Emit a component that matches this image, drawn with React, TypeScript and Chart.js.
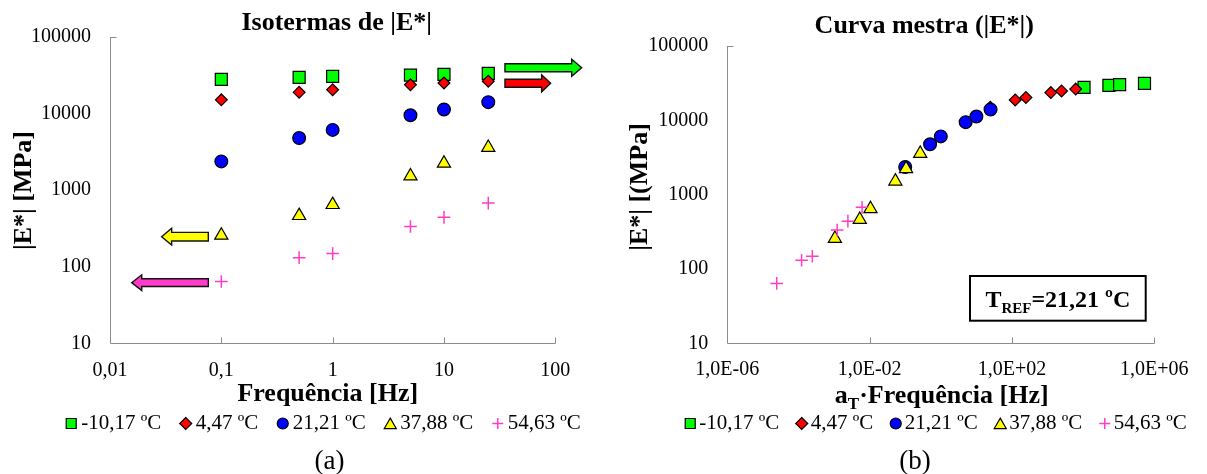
import React, { useEffect, useRef } from 'react';
import { Chart, registerables } from 'chart.js';

Chart.register(...registerables);

// ---------------- data ----------------
const frequencies = [0.1, 0.5, 1, 5, 10, 25];
const seriesLabels = ['-10,17 ºC', '4,47 ºC', '21,21 ºC', '37,88 ºC', '54,63 ºC'];
const modulusTm10 = [27700, 29500, 30300, 31500, 32300, 33300];
const modulusT4 = [15000, 18800, 20300, 23600, 24860, 26300];
const modulusT21 = [2360, 4760, 6080, 9450, 11250, 14000];
const modulusT38 = [256, 462, 643, 1515, 2230, 3570];
const modulusT55 = [64, 131, 148, 334, 440, 675];
const shiftFactors = [1.06e5, 247, 1, 0.01057, 2.45e-4];
const yTickValues = [10, 100, 1000, 10000, 100000];
const xTickValuesA = [0.01, 0.1, 1, 10, 100];
const xTickValuesB = [1e-6, 1e-2, 1e2, 1e6];
const arrowTailsX = [35.3, 35.3, 0.0764, 0.0764];
const arrowTipsX = [172.6, 90.8, 0.0291, 0.01567];
const arrowLevelsY = [39400, 24660, 246, 61.8];

// ---------------- styles ----------------
const SERIF = "'Liberation Serif', 'Times New Roman', serif";
const AXIS_COLOR = '#8c8c8c';
const X_AXIS_H = 40;
const modulusSeries = [modulusTm10, modulusT4, modulusT21, modulusT38, modulusT55];
const markerStyles = [
  { pointStyle: 'rect', fill: '#00ff00', stroke: '#000000', radius: 8.5, width: 1.2, legendSize: 10 },
  { pointStyle: 'rectRot', fill: '#ff0000', stroke: '#000000', radius: 5.9, width: 1.2, legendSize: 12 },
  { pointStyle: 'circle', fill: '#0000ff', stroke: '#000000', radius: 6.4, width: 1.2, legendSize: 11 },
  { pointStyle: 'triangle', fill: '#ffff00', stroke: '#000000', radius: 7.6, width: 1.2, legendSize: 12 },
  { pointStyle: 'cross', fill: '#ff3cc8', stroke: '#ff3cc8', radius: 6.3, width: 1.5, legendSize: 11 },
];
const arrowStyles = [
  { color: '#00ff00', shaft: 8, head: 17, headLen: 10 },
  { color: '#ff0000', shaft: 8, head: 17, headLen: 9 },
  { color: '#ffff00', shaft: 8.7, head: 16.7, headLen: 10 },
  { color: '#ff3cc8', shaft: 7.7, head: 15.7, headLen: 10 },
];

const fmtA = (v: number) => String(v).replace('.', ',');
const fmtB = (v: number) => {
  const e = Math.round(Math.log10(v));
  const m = v / Math.pow(10, e);
  return m.toFixed(1).replace('.', ',') + 'E' + (e < 0 ? '-' : '+') + String(Math.abs(e)).padStart(2, '0');
};

function makeDatasets(shifted: boolean, xMax: number) {
  return modulusSeries.map((vals, i) => {
    const st = markerStyles[i];
    return {
      label: seriesLabels[i],
      data: frequencies
        .map((f, j) => ({ x: shifted ? f * shiftFactors[i] : f, y: vals[j] }))
        .filter((p) => p.x <= xMax),
      showLine: false,
      pointStyle: st.pointStyle,
      pointRadius: st.radius,
      pointHoverRadius: st.radius,
      pointBackgroundColor: st.fill,
      pointBorderColor: st.stroke,
      pointBorderWidth: st.width,
      borderColor: st.stroke,
      backgroundColor: st.fill,
      order: modulusSeries.length - i,
    };
  });
}

function drawMarker(ctx: CanvasRenderingContext2D, i: number, x: number, y: number) {
  const st = markerStyles[i];
  const s = st.legendSize;
  ctx.save();
  ctx.beginPath();
  ctx.lineWidth = st.width;
  ctx.strokeStyle = st.stroke;
  ctx.fillStyle = st.fill;
  switch (st.pointStyle) {
    case 'rect':
      ctx.rect(x - s / 2, y - s / 2, s, s);
      break;
    case 'rectRot':
      ctx.moveTo(x, y - s / 2);
      ctx.lineTo(x + s / 2, y);
      ctx.lineTo(x, y + s / 2);
      ctx.lineTo(x - s / 2, y);
      ctx.closePath();
      break;
    case 'circle':
      ctx.arc(x, y, s / 2, 0, Math.PI * 2);
      break;
    case 'triangle':
      ctx.moveTo(x, y - s * 0.45);
      ctx.lineTo(x + s / 2, y + s * 0.42);
      ctx.lineTo(x - s / 2, y + s * 0.42);
      ctx.closePath();
      break;
    case 'cross':
      ctx.moveTo(x - s / 2, y);
      ctx.lineTo(x + s / 2, y);
      ctx.moveTo(x, y - s / 2);
      ctx.lineTo(x, y + s / 2);
      ctx.stroke();
      ctx.restore();
      return;
  }
  ctx.fill();
  ctx.stroke();
  ctx.restore();
}

type Part = { text: string; size: number; dy: number };
function drawRich(ctx: CanvasRenderingContext2D, parts: Part[], cx: number, baseY: number, weight: string) {
  let total = 0;
  const widths = parts.map((p) => {
    ctx.font = `${weight} ${p.size}px ${SERIF}`;
    const w = ctx.measureText(p.text).width;
    total += w;
    return w;
  });
  let x = cx - total / 2;
  ctx.textAlign = 'left';
  ctx.textBaseline = 'alphabetic';
  ctx.fillStyle = '#000';
  parts.forEach((p, k) => {
    ctx.font = `${weight} ${p.size}px ${SERIF}`;
    ctx.fillText(p.text, x, baseY + p.dy);
    x += widths[k];
  });
}

function decorPlugin(spec: any) {
  return {
    id: 'decor' + spec.key,
    beforeDatasetsDraw(chart: any) {
      const { ctx, chartArea, scales } = chart;
      const L = Math.round(chartArea.left) + 0.5;
      const B = Math.round(chartArea.bottom) + 0.5;
      const T = Math.round(chartArea.top);
      const R = Math.round(chartArea.right) + 0.5;
      ctx.save();
      ctx.strokeStyle = AXIS_COLOR;
      ctx.lineWidth = 1;
      ctx.beginPath();
      ctx.moveTo(L, T);
      ctx.lineTo(L, B);
      ctx.lineTo(R, B);
      spec.xTicks.slice(1).forEach((v: number) => {
        const px = Math.round(scales.x.getPixelForValue(v)) + 0.5;
        ctx.moveTo(px, B);
        ctx.lineTo(px, B - 6);
      });
      // only the top end of the value axis carries a visible tick mark
      const yTop = spec.yTicks[spec.yTicks.length - 1];
      const py = Math.round(scales.y.getPixelForValue(yTop)) + 0.5;
      ctx.moveTo(L, py);
      ctx.lineTo(L + 6, py);
      ctx.stroke();
      ctx.restore();
    },
    afterDraw(chart: any) {
      const { ctx, scales, chartArea } = chart;
      ctx.save();
      // arrows
      if (spec.arrows) {
        arrowTailsX.forEach((tail, k) => {
          const st = arrowStyles[k];
          const x0 = scales.x.getPixelForValue(tail);
          const xt = scales.x.getPixelForValue(arrowTipsX[k]);
          const y = scales.y.getPixelForValue(arrowLevelsY[k]);
          const dir = Math.sign(xt - x0);
          const xb = xt - dir * st.headLen;
          ctx.beginPath();
          ctx.moveTo(x0, y - st.shaft / 2);
          ctx.lineTo(xb, y - st.shaft / 2);
          ctx.lineTo(xb, y - st.head / 2);
          ctx.lineTo(xt, y);
          ctx.lineTo(xb, y + st.head / 2);
          ctx.lineTo(xb, y + st.shaft / 2);
          ctx.lineTo(x0, y + st.shaft / 2);
          ctx.closePath();
          ctx.fillStyle = st.color;
          ctx.fill();
          ctx.lineWidth = 1.4;
          ctx.strokeStyle = '#111';
          ctx.lineJoin = 'miter';
          ctx.stroke();
        });
      }
      // reference temperature box
      if (spec.refBox) {
        const bx = chartArea.right - spec.refBox.rightGap - spec.refBox.w;
        const by = chartArea.bottom - spec.refBox.bottomGap - spec.refBox.h;
        ctx.fillStyle = '#fff';
        ctx.fillRect(bx, by, spec.refBox.w, spec.refBox.h);
        ctx.lineWidth = 2;
        ctx.strokeStyle = '#000';
        ctx.strokeRect(bx, by, spec.refBox.w, spec.refBox.h);
        drawRich(
          ctx,
          [
            { text: 'T', size: 24, dy: 0 },
            { text: 'REF', size: 15, dy: 6 },
            { text: '=21,21 ºC', size: 24, dy: 0 },
          ],
          bx + spec.refBox.w / 2,
          by + 31.3,
          'bold'
        );
      }
      // chart title
      ctx.fillStyle = '#000';
      ctx.font = `bold 26px ${SERIF}`;
      ctx.textAlign = 'center';
      ctx.textBaseline = 'alphabetic';
      ctx.fillText(spec.title, spec.titleX, spec.titleY);
      // y title
      ctx.save();
      ctx.translate(spec.yTitleX, spec.yTitleY);
      ctx.rotate(-Math.PI / 2);
      ctx.font = `bold 26px ${SERIF}`;
      ctx.textAlign = 'center';
      ctx.textBaseline = 'middle';
      ctx.fillText(spec.yTitle, 0, 0);
      ctx.restore();
      // x title
      drawRich(ctx, spec.xTitleParts, spec.xTitleX, spec.xTitleY, 'bold');
      // legend
      ctx.font = `21px ${SERIF}`;
      const tw = seriesLabels.map((t) => ctx.measureText(t).width);
      const total =
        tw.reduce((a, b) => a + b, 0) + seriesLabels.length * spec.legendMarkerGap + (seriesLabels.length - 1) * spec.legendItemGap + 5;
      let cur = spec.legendCx - total / 2 + 5;
      seriesLabels.forEach((t, i) => {
        drawMarker(ctx, i, cur, spec.legendY);
        ctx.font = `21px ${SERIF}`;
        ctx.fillStyle = '#000';
        ctx.textAlign = 'left';
        ctx.textBaseline = 'middle';
        ctx.fillText(t, cur + spec.legendMarkerGap, spec.legendY);
        cur += spec.legendMarkerGap + tw[i] + spec.legendItemGap;
      });
      // panel label
      ctx.font = `27px ${SERIF}`;
      ctx.textAlign = 'center';
      ctx.textBaseline = 'middle';
      ctx.fillStyle = '#000';
      ctx.fillText(spec.panel, spec.panelX, spec.panelY);
      ctx.restore();
    },
  };
}

function buildConfig(spec: any): any {
  const tickFont = { family: SERIF, size: 20 };
  return {
    type: 'scatter',
    data: { datasets: spec.datasets },
    options: {
      responsive: false,
      animation: false,
      events: [],
      layout: {
        padding: {
          left: 0,
          top: spec.area.top,
          right: spec.width - spec.area.right,
          bottom: spec.height - spec.area.bottom - X_AXIS_H,
        },
      },
      plugins: { legend: { display: false }, title: { display: false }, tooltip: { enabled: false } },
      scales: {
        x: {
          type: 'logarithmic',
          position: 'bottom',
          min: spec.xTicks[0],
          max: spec.xTicks[spec.xTicks.length - 1],
          afterBuildTicks: (s: any) => {
            s.ticks = spec.xTicks.map((v: number) => ({ value: v }));
          },
          afterFit: (s: any) => {
            s.height = X_AXIS_H;
          },
          grid: { display: false, drawTicks: false },
          border: { display: false },
          ticks: {
            autoSkip: false,
            maxRotation: 0,
            padding: spec.xLabelPad,
            font: tickFont,
            color: '#000',
            callback: (v: any) => spec.xFormat(Number(v)),
          },
        },
        y: {
          type: 'logarithmic',
          position: 'left',
          min: spec.yTicks[0],
          max: spec.yTicks[spec.yTicks.length - 1],
          afterBuildTicks: (s: any) => {
            s.ticks = spec.yTicks.map((v: number) => ({ value: v }));
          },
          afterFit: (s: any) => {
            s.width = spec.area.left;
          },
          grid: { display: false, drawTicks: false },
          border: { display: false },
          ticks: {
            autoSkip: false,
            padding: 19,
            font: tickFont,
            color: '#000',
            callback: (v: any) => String(Number(v)),
          },
        },
      },
    },
    plugins: [decorPlugin(spec)],
  };
}

const specA = {
  key: 'A',
  width: 600,
  height: 474,
  area: { left: 110, top: 36.7, right: 555.3, bottom: 343.3 },
  xTicks: xTickValuesA,
  yTicks: yTickValues,
  xFormat: fmtA,
  xLabelPad: 15.7,
  datasets: makeDatasets(false, xTickValuesA[xTickValuesA.length - 1]),
  title: 'Isotermas de |E*|',
  titleX: 336.7,
  titleY: 29.5,
  yTitle: '|E*| [MPa]',
  yTitleX: 24,
  yTitleY: 190.5,
  xTitleParts: [{ text: 'Frequência [Hz]', size: 26, dy: 0 }],
  xTitleX: 327.8,
  xTitleY: 400.5,
  legendCx: 323.5,
  legendY: 423.5,
  legendMarkerGap: 10,
  legendItemGap: 24.5,
  panel: '(a)',
  panelX: 329.5,
  panelY: 461.5,
  arrows: true,
  refBox: null,
};

const specB = {
  key: 'B',
  width: 607,
  height: 474,
  area: { left: 127.3, top: 46, right: 554.3, bottom: 343.3 },
  xTicks: xTickValuesB,
  yTicks: yTickValues,
  xFormat: fmtB,
  xLabelPad: 14.7,
  datasets: makeDatasets(true, xTickValuesB[xTickValuesB.length - 1]),
  title: 'Curva mestra (|E*|)',
  titleX: 324.3,
  titleY: 32.5,
  yTitle: '|E*| [(MPa]',
  yTitleX: 40,
  yTitleY: 187,
  xTitleParts: [
    { text: 'a', size: 26, dy: 0 },
    { text: 'T', size: 17, dy: 6 },
    { text: '·Frequência [Hz]', size: 26, dy: 0 },
  ],
  xTitleX: 341.7,
  xTitleY: 402.5,
  legendCx: 336,
  legendY: 423.5,
  legendMarkerGap: 9,
  legendItemGap: 22.5,
  panel: '(b)',
  panelX: 315,
  panelY: 461.5,
  arrows: false,
  refBox: { w: 175.7, h: 44.7, rightGap: 8.6, bottomGap: 22.6 },
};

export default function App() {
  const refA = useRef<HTMLCanvasElement>(null);
  const refB = useRef<HTMLCanvasElement>(null);
  useEffect(() => {
    document.body.style.margin = '0';
    const a = new Chart(refA.current as HTMLCanvasElement, buildConfig(specA));
    const b = new Chart(refB.current as HTMLCanvasElement, buildConfig(specB));
    return () => {
      a.destroy();
      b.destroy();
    };
  }, []);
  return (
    <div style={{ position: 'relative', width: 1207, height: 474, background: '#fff', overflow: 'hidden' }}>
      <canvas ref={refA} width={600} height={474} style={{ position: 'absolute', left: 0, top: 0 }} />
      <canvas ref={refB} width={607} height={474} style={{ position: 'absolute', left: 600, top: 0 }} />
    </div>
  );
}
